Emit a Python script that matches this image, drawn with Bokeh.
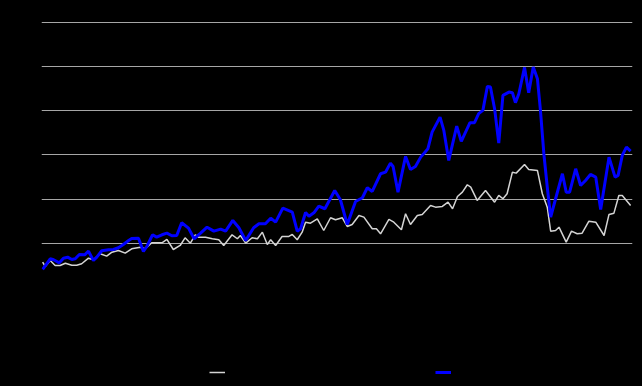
from bokeh.plotting import figure
from bokeh.models import Legend, LegendItem, FixedTicker, Range1d
from bokeh.embed import file_html
from bokeh.resources import INLINE

# months since start
white_x = [0.3, 1.0, 2.3, 3.6, 4.9, 6.3, 8.0, 9.3, 10.6, 12.4, 13.7, 15.5, 17.2, 18.6, 20.3, 22.1,
           23.8, 26.1, 27.4, 29.1, 31.8, 33.1, 34.8, 36.6, 37.9, 39.3, 40.6, 41.4, 43.3, 45.1, 46.8,
           48.1, 50.3, 51.7, 52.5, 53.9, 55.6, 57.0, 58.3, 59.6, 60.5, 61.8, 63.5, 65.3, 66.2, 67.5,
           68.8, 69.7, 71.0, 72.8, 74.5, 76.3, 77.6, 79.4, 80.7, 82.0, 83.8, 85.1, 87.3, 88.4, 89.5,
           91.7, 93.0, 95.0, 96.1, 97.4, 99.2, 100.5, 102.7, 104.0, 105.8, 107.3, 108.5, 109.8, 111.1,
           112.4, 113.3, 115.0, 117.2, 119.6, 120.7, 121.8, 122.9, 124.3, 125.3, 127.5, 128.6, 130.9,
           132.2, 133.5, 134.4, 135.7, 136.6, 138.5, 139.9, 141.4, 142.7, 144.5, 146.3, 148.5, 149.8,
           151.1, 152.4, 153.3, 155.5]
white_y = [57.3, 47.5, 61.1, 49.8, 49.8, 55.0, 50.5, 50.5, 53.7, 66.3, 62.7, 76.3, 70.9, 79.9, 83.8,
           77.7, 87.6, 91.2, 87.6, 101.2, 101.2, 108.7, 86.0, 95.1, 112.5, 100.3, 119.3, 113.9, 113.9,
           110.3, 108.0, 95.1, 119.3, 110.3, 117.7, 100.3, 112.5, 110.3, 125.2, 97.4, 108.0, 95.1,
           115.5, 115.5, 120.0, 108.0, 125.2, 147.8, 145.6, 155.5, 129.0, 157.8, 153.3, 157.8, 138.1,
           142.6, 163.0, 159.2, 132.9, 132.9, 121.6, 154.0, 147.8, 130.6, 166.9, 142.6, 163.0, 165.3,
           185.6, 181.8, 183.4, 193.1, 178.2, 206.0, 215.8, 232.5, 227.1, 197.0, 219.6, 193.1, 208.3,
           200.8, 212.1, 261.0, 258.8, 278.5, 267.2, 264.9, 212.1, 181.8, 127.5, 129.0, 136.5, 102.6,
           127.5, 121.6, 122.9, 150.1, 147.8, 117.7, 165.3, 168.2, 208.3, 208.3, 185.6]

blue_x = [0.3, 2.3, 3.2, 4.7, 5.8, 6.9, 8.0, 8.9, 10.0, 11.4, 12.4, 13.7, 14.6, 15.9, 17.7, 19.0,
          20.3, 21.6, 23.0, 23.8, 25.6, 26.9, 27.8, 29.3, 30.4, 31.8, 33.1, 34.4, 35.7, 37.0, 38.8,
          40.3, 41.3, 42.0, 43.7, 45.5, 47.3, 48.6, 50.5, 52.1, 53.9, 56.0, 57.4, 59.1, 60.5, 61.8,
          63.7, 66.2, 67.5, 68.4, 69.7, 70.6, 71.9, 73.2, 74.8, 77.4, 78.9, 80.7, 82.9, 84.7, 86.0,
          87.3, 89.5, 90.8, 92.1, 92.8, 94.1, 96.1, 97.4, 98.7, 100.1, 102.0, 103.1, 105.2, 106.2,
          107.5, 109.6, 110.8, 113.1, 114.3, 115.4, 116.5, 117.7, 118.5, 119.6, 120.7, 121.8, 123.4,
          124.3, 125.1, 126.0, 127.5, 128.6, 129.8, 130.9, 131.7, 132.6, 133.5, 134.4, 135.7, 137.5,
          138.5, 139.4, 141.0, 142.3, 143.6, 144.9, 146.3, 147.6, 149.8, 151.4, 152.2, 153.3, 154.4,
          155.5]
blue_y = [40.8, 65.0, 62.7, 55.9, 66.3, 68.6, 63.4, 65.0, 74.7, 74.0, 82.2, 61.1, 68.6, 83.1, 85.4,
          86.0, 89.9, 97.4, 106.4, 110.9, 111.6, 81.5, 92.8, 119.3, 113.9, 119.3, 122.9, 117.0, 117.7,
          146.5, 134.3, 110.3, 117.7, 122.9, 136.5, 127.5, 132.0, 127.5, 151.7, 135.2, 106.4, 135.2,
          144.2, 144.2, 156.9, 147.8, 179.5, 170.5, 127.5, 132.9, 169.8, 161.4, 169.1, 184.1, 178.2,
          219.6, 198.6, 142.6, 194.7, 203.1, 225.7, 217.3, 257.4, 261.0, 281.4, 273.9, 215.8, 296.6,
          267.2, 273.9, 295.0, 314.0, 351.6, 385.6, 355.4, 287.5, 365.2, 330.5, 372.9, 372.9, 393.3,
          400.7, 455.1, 453.5, 404.6, 326.7, 434.7, 442.2, 440.8, 418.2, 438.5, 498.1, 440.8, 498.8,
          472.5, 400.7, 302.7, 227.1, 159.2, 200.8, 257.4, 215.8, 215.8, 268.7, 230.9, 242.2, 255.8,
          249.7, 176.6, 295.0, 249.7, 253.6, 298.8, 317.6, 308.6]

y_ticks = [100, 200, 300, 400, 500, 600]
series_names = ["Benchmark index", "Fund"]

p = figure(frame_width=591, frame_height=373, output_backend="svg", toolbar_location=None,
           x_range=Range1d(0, 156), y_range=Range1d(-224, 620), x_axis_location=None,
           min_border_left=41, min_border_right=10, min_border_top=13, min_border_bottom=0)
p.background_fill_color = "#000000"
p.border_fill_color = "#000000"
p.outline_line_color = None

p.xgrid.grid_line_color = None
p.ygrid.grid_line_color = "#a6a6a6"
p.ygrid.grid_line_width = 1
p.yaxis.ticker = FixedTicker(ticks=y_ticks)

ax = p.yaxis[0]
ax.axis_line_color = None
ax.major_tick_line_color = None
ax.minor_tick_line_color = None
ax.major_label_text_color = "#000000"
ax.major_tick_out = 0
ax.major_tick_in = 0

r_white = p.line(white_x, white_y, line_color="#d4d4d4", line_width=1.5)
r_blue = p.line(blue_x, blue_y, line_color="#0000ff", line_width=3)

legend = Legend(items=[LegendItem(label=series_names[0], renderers=[r_white]),
                       LegendItem(label=series_names[1], renderers=[r_blue])],
                orientation="horizontal", location=(168, 8),
                glyph_width=16, glyph_height=10, label_standoff=5, label_height=12,
                spacing=120, padding=0, margin=0,
                label_text_color="#000000", label_text_font_size="11px",
                background_fill_alpha=0, border_line_color=None)
p.add_layout(legend, "center")

html = file_html(p, INLINE)
html = html.replace("<head>", "<head><style>html,body{background:#000000;}</style>", 1)
open("out.html", "w").write(html)
